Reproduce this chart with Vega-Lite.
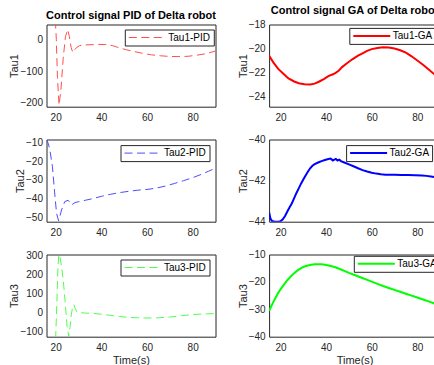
{
  "$schema": "https://vega.github.io/schema/vega-lite/v6.json",
  "padding": {"left": 7.5, "top": 4.5, "right": 0, "bottom": 0},
  "background": "white",
  "datasets": {
    "tau1pid": [
      {"t": 19.9, "v": 60}, {"t": 20.3, "v": 0}, {"t": 20.8, "v": -120}, {"t": 21.5, "v": -207}, {"t": 22.3, "v": -160},
      {"t": 23.3, "v": -60}, {"t": 24.3, "v": 10}, {"t": 25.3, "v": 32}, {"t": 26.0, "v": 10}, {"t": 26.8, "v": -25},
      {"t": 27.5, "v": -40}, {"t": 28.3, "v": -32}, {"t": 29.3, "v": -24}, {"t": 30.5, "v": -19}, {"t": 32, "v": -17},
      {"t": 35, "v": -16}, {"t": 39, "v": -15}, {"t": 42, "v": -15.5}, {"t": 45, "v": -19}, {"t": 48, "v": -26},
      {"t": 51, "v": -32}, {"t": 54, "v": -37}, {"t": 58, "v": -43}, {"t": 62, "v": -48}, {"t": 66, "v": -51},
      {"t": 70, "v": -53}, {"t": 74, "v": -53.5}, {"t": 78, "v": -52.5}, {"t": 82, "v": -49}, {"t": 86, "v": -44},
      {"t": 90, "v": -36}
    ],
    "tau1ga": [
      {"t": 15, "v": -20.6}, {"t": 17, "v": -21.2}, {"t": 19, "v": -21.7}, {"t": 21.5, "v": -22.15}, {"t": 23.5, "v": -22.5},
      {"t": 26, "v": -22.75}, {"t": 28, "v": -22.9}, {"t": 30.5, "v": -22.98}, {"t": 33, "v": -23.0}, {"t": 35, "v": -22.93},
      {"t": 37, "v": -22.75}, {"t": 39, "v": -22.55}, {"t": 41, "v": -22.3}, {"t": 43, "v": -22.15}, {"t": 44, "v": -22.05},
      {"t": 45.5, "v": -21.85}, {"t": 47, "v": -21.55}, {"t": 49, "v": -21.25}, {"t": 51.5, "v": -20.9}, {"t": 54, "v": -20.6},
      {"t": 56, "v": -20.4}, {"t": 58, "v": -20.2}, {"t": 60, "v": -20.05}, {"t": 62.5, "v": -19.95}, {"t": 65, "v": -19.9},
      {"t": 67.5, "v": -19.92}, {"t": 70, "v": -20.0}, {"t": 72.5, "v": -20.15}, {"t": 75, "v": -20.35}, {"t": 77.5, "v": -20.65},
      {"t": 80, "v": -21.0}, {"t": 82.5, "v": -21.35}, {"t": 85, "v": -21.75}, {"t": 87.5, "v": -22.15}, {"t": 90, "v": -22.6}
    ],
    "tau2pid": [
      {"t": 16.0, "v": -8.6}, {"t": 16.8, "v": -10.5}, {"t": 17.6, "v": -15}, {"t": 18.6, "v": -23}, {"t": 19.5, "v": -36},
      {"t": 20.4, "v": -48}, {"t": 21.3, "v": -52}, {"t": 22.6, "v": -46.2}, {"t": 24.0, "v": -41.7}, {"t": 25.5, "v": -41.0},
      {"t": 27.0, "v": -43.5}, {"t": 28.5, "v": -42.2}, {"t": 30, "v": -41.8}, {"t": 33, "v": -41.0}, {"t": 36, "v": -40.2},
      {"t": 40, "v": -38.9}, {"t": 44, "v": -37.8}, {"t": 48, "v": -36.9}, {"t": 52, "v": -36.2}, {"t": 56, "v": -35.6},
      {"t": 60, "v": -35.2}, {"t": 64, "v": -34.5}, {"t": 68, "v": -33.4}, {"t": 72, "v": -32.0}, {"t": 76, "v": -30.5},
      {"t": 80, "v": -28.9}, {"t": 84, "v": -27.0}, {"t": 87, "v": -25.4}, {"t": 90, "v": -23.8}
    ],
    "tau2ga": [
      {"t": 15, "v": -43.55}, {"t": 15.6, "v": -43.85}, {"t": 16.3, "v": -43.97}, {"t": 17.5, "v": -44.0}, {"t": 19, "v": -44.0},
      {"t": 20, "v": -43.98}, {"t": 21, "v": -43.88}, {"t": 22, "v": -43.72}, {"t": 23, "v": -43.5}, {"t": 24, "v": -43.3},
      {"t": 25, "v": -43.1}, {"t": 26, "v": -42.85}, {"t": 27, "v": -42.6}, {"t": 28, "v": -42.38}, {"t": 29, "v": -42.15},
      {"t": 30, "v": -41.95}, {"t": 31, "v": -41.75}, {"t": 32, "v": -41.57}, {"t": 33, "v": -41.4}, {"t": 34, "v": -41.28},
      {"t": 35, "v": -41.2}, {"t": 36.5, "v": -41.12}, {"t": 38, "v": -41.05}, {"t": 39.5, "v": -41.0}, {"t": 41, "v": -40.95},
      {"t": 42, "v": -40.93}, {"t": 43, "v": -41.02}, {"t": 43.6, "v": -40.98}, {"t": 44.3, "v": -40.95}, {"t": 45, "v": -41.02},
      {"t": 45.8, "v": -40.98}, {"t": 46.5, "v": -41.05}, {"t": 48, "v": -41.12}, {"t": 50, "v": -41.21}, {"t": 52, "v": -41.3},
      {"t": 54, "v": -41.4}, {"t": 56, "v": -41.49}, {"t": 58, "v": -41.56}, {"t": 60, "v": -41.62}, {"t": 62, "v": -41.66},
      {"t": 64, "v": -41.69}, {"t": 66, "v": -41.71}, {"t": 68, "v": -41.72}, {"t": 70, "v": -41.72}, {"t": 73, "v": -41.73},
      {"t": 76, "v": -41.73}, {"t": 79, "v": -41.74}, {"t": 82, "v": -41.75}, {"t": 84, "v": -41.77}, {"t": 86, "v": -41.8},
      {"t": 88, "v": -41.83}, {"t": 90, "v": -41.86}
    ],
    "tau3pid": [
      {"t": 20.0, "v": -140}, {"t": 20.5, "v": 40}, {"t": 21.0, "v": 230}, {"t": 21.4, "v": 303}, {"t": 21.9, "v": 290},
      {"t": 22.6, "v": 240}, {"t": 23.4, "v": 160}, {"t": 24.2, "v": 50}, {"t": 25.0, "v": -70}, {"t": 25.7, "v": -128},
      {"t": 26.3, "v": -80}, {"t": 26.9, "v": -10}, {"t": 27.5, "v": 30}, {"t": 28.0, "v": 40}, {"t": 28.6, "v": 20},
      {"t": 29.3, "v": 2}, {"t": 30.5, "v": -2}, {"t": 33, "v": -4}, {"t": 36, "v": -6}, {"t": 40, "v": -10},
      {"t": 44, "v": -16}, {"t": 48, "v": -22}, {"t": 52, "v": -27}, {"t": 56, "v": -29}, {"t": 60, "v": -30},
      {"t": 65, "v": -29}, {"t": 70, "v": -25}, {"t": 75, "v": -18}, {"t": 80, "v": -12}, {"t": 85, "v": -8.5},
      {"t": 90, "v": -7}
    ],
    "tau3ga": [
      {"t": 15, "v": -30.6}, {"t": 16, "v": -28.8}, {"t": 17, "v": -27.1}, {"t": 18, "v": -25.5}, {"t": 19, "v": -24.0},
      {"t": 20, "v": -22.7}, {"t": 21.5, "v": -21.0}, {"t": 23, "v": -19.4}, {"t": 24.5, "v": -18.0}, {"t": 26, "v": -16.8},
      {"t": 27.5, "v": -15.8}, {"t": 29, "v": -15.0}, {"t": 30.5, "v": -14.4}, {"t": 32, "v": -14.0}, {"t": 33.5, "v": -13.75},
      {"t": 35, "v": -13.6}, {"t": 36.5, "v": -13.55}, {"t": 38, "v": -13.6}, {"t": 39.5, "v": -13.75}, {"t": 41, "v": -14.0},
      {"t": 42.5, "v": -14.3}, {"t": 44, "v": -14.65}, {"t": 46, "v": -15.3}, {"t": 48, "v": -16.0}, {"t": 50, "v": -16.7},
      {"t": 52.5, "v": -17.5}, {"t": 55, "v": -18.3}, {"t": 57.5, "v": -19.1}, {"t": 60, "v": -19.9}, {"t": 62.5, "v": -20.7},
      {"t": 65, "v": -21.5}, {"t": 67.5, "v": -22.2}, {"t": 70, "v": -22.9}, {"t": 72.5, "v": -23.6}, {"t": 75, "v": -24.3},
      {"t": 77.5, "v": -25.0}, {"t": 80, "v": -25.7}, {"t": 82.5, "v": -26.4}, {"t": 85, "v": -27.1}, {"t": 87.5, "v": -27.9},
      {"t": 90, "v": -28.7}
    ]
  },
  "columns": 2,
  "bounds": "flush",
  "align": "each",
  "spacing": {"row": 32, "column": 53.6},
  "concat": [
    {
      "width": 169, "height": 82.2,
      "data": {"name": "tau1pid"},
      "title": {"text": "Control signal PID of Delta robot"},
      "mark": {"type": "line", "clip": true, "strokeWidth": 1, "strokeDash": [8, 4.5]},
      "encoding": {
        "x": {"field": "t", "type": "quantitative", "scale": {"domain": [16, 90], "nice": false, "zero": false}, "axis": {"values": [20, 40, 60, 80], "title": null}},
        "y": {"field": "v", "type": "quantitative", "scale": {"domain": [-212, 48], "nice": false, "zero": false}, "axis": {"values": [-200, -100, 0], "title": "Tau1"}},
        "color": {"datum": "Tau1-PID", "type": "nominal", "scale": {"range": ["#ff4d4d"]},
          "legend": {"orient": "none", "legendX": 78.3, "legendY": 5, "symbolDash": [8, 4.5], "symbolStrokeWidth": 1}}
      }
    },
    {
      "width": 171, "height": 82.2,
      "data": {"name": "tau1ga"},
      "title": {"text": "Control signal GA of Delta robot"},
      "mark": {"type": "line", "clip": true, "strokeWidth": 2},
      "encoding": {
        "x": {"field": "t", "type": "quantitative", "scale": {"domain": [15, 90], "nice": false, "zero": false}, "axis": {"values": [20, 40, 60, 80], "title": null}},
        "y": {"field": "v", "type": "quantitative", "scale": {"domain": [-24.85, -18], "nice": false, "zero": false}, "axis": {"values": [-24, -22, -20, -18], "title": "Tau1"}},
        "color": {"datum": "Tau1-GA", "type": "nominal", "scale": {"range": ["#ff0000"]},
          "legend": {"orient": "none", "legendX": 80.2, "legendY": 3.4, "symbolStrokeWidth": 2}}
      }
    },
    {
      "width": 169, "height": 82.2,
      "data": {"name": "tau2pid"},
      "mark": {"type": "line", "clip": true, "strokeWidth": 1, "strokeDash": [8, 4.5]},
      "encoding": {
        "x": {"field": "t", "type": "quantitative", "scale": {"domain": [16, 90], "nice": false, "zero": false}, "axis": {"values": [20, 40, 60, 80], "title": null}},
        "y": {"field": "v", "type": "quantitative", "scale": {"domain": [-52.5, -8.4], "nice": false, "zero": false}, "axis": {"values": [-50, -40, -30, -20, -10], "title": "Tau2"}},
        "color": {"datum": "Tau2-PID", "type": "nominal", "scale": {"range": ["#4d4dff"]},
          "legend": {"orient": "none", "legendX": 74, "legendY": 5.6, "symbolDash": [8, 4.5], "symbolStrokeWidth": 1}}
      }
    },
    {
      "width": 171, "height": 82.2,
      "data": {"name": "tau2ga"},
      "mark": {"type": "line", "clip": true, "strokeWidth": 2},
      "encoding": {
        "x": {"field": "t", "type": "quantitative", "scale": {"domain": [15, 90], "nice": false, "zero": false}, "axis": {"values": [20, 40, 60, 80], "title": null}},
        "y": {"field": "v", "type": "quantitative", "scale": {"domain": [-44, -40], "nice": false, "zero": false}, "axis": {"values": [-44, -42, -40], "title": "Tau2"}},
        "color": {"datum": "Tau2-GA", "type": "nominal", "scale": {"range": ["#0000ff"]},
          "legend": {"orient": "none", "legendX": 77, "legendY": 5.6, "symbolStrokeWidth": 2}}
      }
    },
    {
      "width": 169, "height": 82.2,
      "data": {"name": "tau3pid"},
      "mark": {"type": "line", "clip": true, "strokeWidth": 1, "strokeDash": [8, 4.5]},
      "encoding": {
        "x": {"field": "t", "type": "quantitative", "scale": {"domain": [16, 90], "nice": false, "zero": false}, "axis": {"values": [20, 40, 60, 80], "title": "Time(s)"}},
        "y": {"field": "v", "type": "quantitative", "scale": {"domain": [-128, 303], "nice": false, "zero": false}, "axis": {"values": [-100, 0, 100, 200, 300], "title": "Tau3"}},
        "color": {"datum": "Tau3-PID", "type": "nominal", "scale": {"range": ["#4dff4d"]},
          "legend": {"orient": "none", "legendX": 74, "legendY": 5, "symbolDash": [8, 4.5], "symbolStrokeWidth": 1}}
      }
    },
    {
      "width": 171, "height": 82.2,
      "data": {"name": "tau3ga"},
      "mark": {"type": "line", "clip": true, "strokeWidth": 2},
      "encoding": {
        "x": {"field": "t", "type": "quantitative", "scale": {"domain": [15, 90], "nice": false, "zero": false}, "axis": {"values": [20, 40, 60, 80], "title": "Time(s)"}},
        "y": {"field": "v", "type": "quantitative", "scale": {"domain": [-40, -10], "nice": false, "zero": false}, "axis": {"values": [-40, -30, -20, -10], "title": "Tau3"}},
        "color": {"datum": "Tau3-GA", "type": "nominal", "scale": {"range": ["#00ff00"]},
          "legend": {"orient": "none", "legendX": 84.7, "legendY": 1.3, "symbolStrokeWidth": 2}}
      }
    }
  ],
  "resolve": {"scale": {"color": "independent"}, "legend": {"color": "independent"}},
  "config": {
    "font": "Liberation Sans",
    "view": {"stroke": "#262626", "strokeWidth": 1},
    "axis": {"ticks": false, "domain": false, "grid": false, "labelFont": "Liberation Sans", "labelFontSize": 10, "labelColor": "#262626", "titleFont": "Liberation Sans", "titleFontSize": 11, "titleFontWeight": "normal", "titleColor": "#262626", "minExtent": 0},
    "axisY": {"labelPadding": 4, "titlePadding": 0, "minExtent": 0},
    "axisX": {"labelPadding": 5.5, "titlePadding": 2, "minExtent": 0},
    "title": {"font": "Liberation Sans", "fontSize": 11, "fontWeight": "bold", "color": "#000000", "baseline": "alphabetic", "offset": 3.5, "anchor": "middle"},
    "legend": {"title": null, "symbolType": "M-1,0H8.25", "symbolSize": 64, "labelFont": "Liberation Sans", "labelFontSize": 10, "labelColor": "#000000", "labelOffset": 30.5, "padding": 3, "strokeColor": "#262626", "fillColor": "#ffffff", "cornerRadius": 0}
  }
}
